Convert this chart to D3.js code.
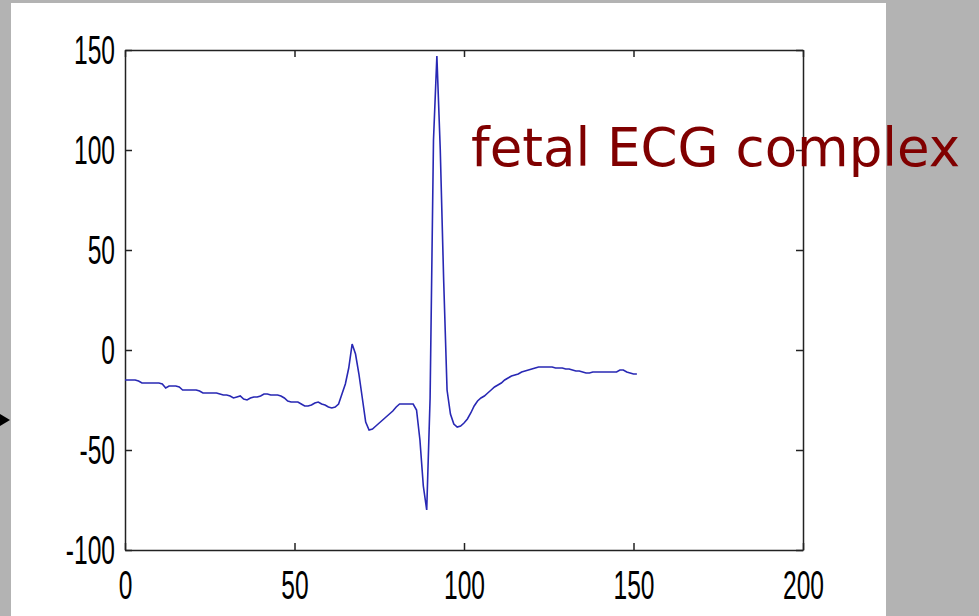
<!DOCTYPE html>
<html>
<head>
<meta charset="utf-8">
<script src="https://cdn.jsdelivr.net/npm/d3@7"></script>
<style>
  body { margin: 0; background: #b3b3b3; }
  svg { display: block; }
</style>
</head>
<body>
<div id="ecg-chart"></div>
<script>
// fetal ECG complex, one value per sample index
var ecgValues = [
  -15, -15, -15, -15, -15.5, -16.5, -16.5, -16.5, -16.5, -16.5,
  -16.5, -17, -19, -18, -18, -18, -18.5, -20, -20, -20,
  -20, -20, -20.5, -21.5, -21.5, -21.5, -21.5, -21.5, -22, -22.5,
  -22.5, -23, -24, -23.5, -23, -24.5, -25, -24, -23.5, -23.5,
  -23, -22, -22, -22.5, -22.5, -22.5, -23, -24, -25.5, -26,
  -26, -26, -27, -28, -28, -27.5, -26.5, -26, -27, -27.5,
  -28.5, -29, -28.5, -27, -22, -17, -9, 3, -2, -12,
  -24, -36, -40, -39.5, -38, -36.5, -35, -33.5, -32, -30.5,
  -28.5, -27, -27, -27, -27, -27, -30, -45, -68, -80,
  -24, 105, 147, 100, 35, -20, -32, -37, -38.5, -38,
  -36.5, -34.5, -31.5, -28, -25.5, -24, -23, -21.5, -20, -18.5,
  -17.5, -16.5, -15, -14, -13, -12.5, -12, -11, -10.5, -10,
  -9.5, -9, -8.5, -8.5, -8.5, -8.5, -8.5, -9, -9, -9,
  -9.5, -9.5, -10, -10.5, -10.5, -11, -11.5, -11.5, -11, -11,
  -11, -11, -11, -11, -11, -11, -10, -10, -11, -11.5,
  -12, -12
];
var sampleIndex = ecgValues.map(function(d, i) { return i; });

var xTicks = [0, 50, 100, 150, 200];
var yTicks = [-100, -50, 0, 50, 100, 150];
var titleText = "fetal ECG complex";

var width = 979, height = 616;
var margin = { top: 50, right: 176, bottom: 66, left: 125 };
var plotW = width - margin.left - margin.right;
var plotH = height - margin.top - margin.bottom;

var svg = d3.select("#ecg-chart").append("svg")
  .attr("width", width)
  .attr("height", height);

// grey surround and white figure panel
svg.append("rect").attr("width", width).attr("height", height).attr("fill", "#b3b3b3");
svg.append("rect").attr("x", 11).attr("y", 3).attr("width", 875).attr("height", height - 3).attr("fill", "#fff");

// arrow tip cut off at the left edge
svg.append("path").attr("d", "M0,414L10,420L0,426Z").attr("fill", "#000");

var g = svg.append("g")
  .attr("transform", "translate(" + margin.left + "," + margin.top + ")");

var x = d3.scaleLinear().domain([0, 200]).range([0, plotW]);
var y = d3.scaleLinear().domain([-100, 150]).range([plotH, 0]);

// plain hyphen for negatives, like the original
var fmt = function(d) { return String(d); };

function styleAxis(sel) {
  sel.selectAll("path, line").attr("stroke", "#222").attr("stroke-width", 1.5);
  sel.selectAll("text")
    .attr("fill", "#000")
    .style("font-family", "'Liberation Sans', Arial, sans-serif")
    .style("font-size", "41px");
}

// bottom and left with labels, ticks pointing inside
var xAxis = g.append("g")
  .attr("transform", "translate(0," + plotH + ")")
  .call(d3.axisBottom(x).tickValues(xTicks).tickFormat(fmt).tickSizeInner(-7).tickSizeOuter(0).tickPadding(20));
styleAxis(xAxis);
xAxis.selectAll("text").attr("x", 0).attr("transform", "scale(0.6,1)");

var yAxis = g.append("g")
  .call(d3.axisLeft(y).tickValues(yTicks).tickFormat(fmt).tickSizeInner(-7).tickSizeOuter(0));
styleAxis(yAxis);
yAxis.selectAll("text").attr("x", 0).attr("transform", "translate(-10,0) scale(0.6,1)");

// top and right mirror ticks, no labels
var topAxis = g.append("g")
  .call(d3.axisTop(x).tickValues(xTicks).tickSizeInner(-7).tickSizeOuter(0).tickFormat(""));
styleAxis(topAxis);
var rightAxis = g.append("g")
  .attr("transform", "translate(" + plotW + ",0)")
  .call(d3.axisRight(y).tickValues(yTicks).tickSizeInner(-7).tickSizeOuter(0).tickFormat(""));
styleAxis(rightAxis);

// the signal
var line = d3.line()
  .x(function(d, i) { return x(sampleIndex[i]); })
  .y(function(d) { return y(d); });

g.append("path")
  .datum(ecgValues)
  .attr("d", line)
  .attr("fill", "none")
  .attr("stroke", "#2828b4")
  .attr("stroke-width", 1.6);

// annotation
svg.append("text")
  .attr("x", 471)
  .attr("y", 166)
  .attr("fill", "#800000")
  .style("font-family", "'DejaVu Sans', Verdana, sans-serif")
  .style("font-size", "53px")
  .text(titleText);
</script>
</body>
</html>
